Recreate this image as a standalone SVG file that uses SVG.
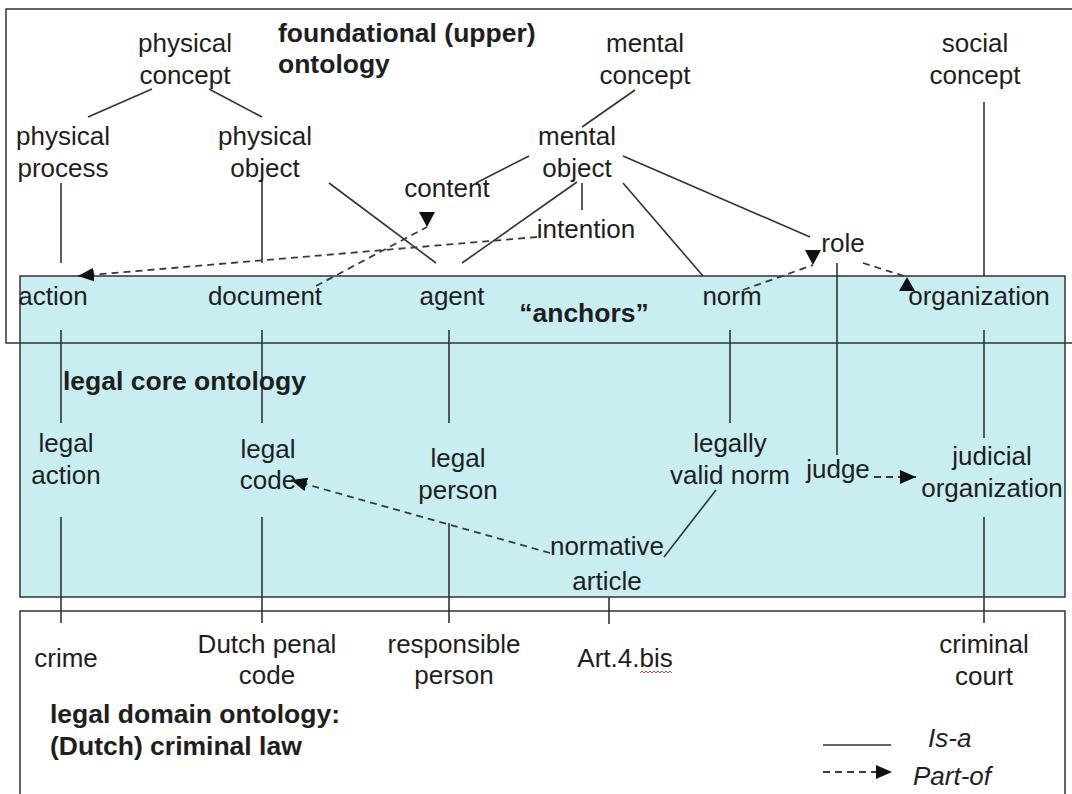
<svg xmlns="http://www.w3.org/2000/svg" width="1072" height="794" viewBox="0 0 1072 794">
<style>
  text { font-family: "Liberation Sans", Arial, sans-serif; font-size: 26px; fill: #1e1e1e; }
  .c { text-anchor: middle; }
  .b { font-weight: bold; font-size: 26.5px; }
  .i { font-style: italic; }
  .box { fill: none; stroke: #333; stroke-width: 1.5; }
  .isa { stroke: #333; stroke-width: 1.6; fill: none; }
  .part { stroke: #3a3a3a; stroke-width: 1.8; fill: none; stroke-dasharray: 7 5; }
</style>
<defs>
  <marker id="arr" markerUnits="userSpaceOnUse" markerWidth="16" markerHeight="14" viewBox="0 0 16 14" refX="16" refY="7" orient="auto">
    <path d="M0,0 L16,7 L0,14 z" fill="#111"/>
  </marker>
  <marker id="arrDown" markerUnits="userSpaceOnUse" markerWidth="16" markerHeight="16" viewBox="0 0 16 16" refX="15" refY="8" orient="90">
    <path d="M0,0 L15,8 L0,16 z" fill="#111"/>
  </marker>
  <marker id="arrUp" markerUnits="userSpaceOnUse" markerWidth="16" markerHeight="16" viewBox="0 0 16 16" refX="14" refY="8" orient="270">
    <path d="M0,0 L14,8 L0,16 z" fill="#111"/>
  </marker>
</defs>
<rect x="0" y="0" width="1072" height="794" fill="#fff"/>

<!-- layers -->
<g id="layers">
  <rect x="20" y="276" width="1045" height="321" fill="#c8eef2" stroke="#333" stroke-width="1.5"/>
  <rect class="box" x="6" y="9" width="1090" height="334"/>
  <rect class="box" x="20" y="611" width="1045" height="220"/>
</g>

<!-- connectors -->
<g id="connectors">
  <!-- is-a -->
  <line class="isa" x1="152" y1="89" x2="88" y2="117"/>
  <line class="isa" x1="209" y1="89" x2="262" y2="117"/>
  <line class="isa" x1="61" y1="183" x2="61" y2="263"/>
  <line class="isa" x1="262" y1="180" x2="262" y2="263"/>
  <line class="isa" x1="329" y1="183" x2="436" y2="263"/>
  <line class="isa" x1="635" y1="90" x2="582" y2="127"/>
  <line class="isa" x1="529" y1="156" x2="476" y2="183"/>
  <line class="isa" x1="577" y1="182" x2="462" y2="263"/>
  <line class="isa" x1="582" y1="183" x2="582" y2="210"/>
  <line class="isa" x1="623" y1="183" x2="703" y2="276"/>
  <line class="isa" x1="623" y1="156" x2="810" y2="237"/>
  <line class="isa" x1="984" y1="102" x2="984" y2="276"/>
  <line class="isa" x1="837" y1="263" x2="837" y2="455"/>
  <line class="isa" x1="61" y1="330" x2="61" y2="423"/>
  <line class="isa" x1="61" y1="517" x2="61" y2="623"/>
  <line class="isa" x1="262" y1="330" x2="262" y2="423"/>
  <line class="isa" x1="262" y1="517" x2="262" y2="623"/>
  <line class="isa" x1="449" y1="330" x2="449" y2="423"/>
  <line class="isa" x1="449" y1="523" x2="449" y2="623"/>
  <line class="isa" x1="730" y1="330" x2="730" y2="423"/>
  <line class="isa" x1="984" y1="330" x2="984" y2="438"/>
  <line class="isa" x1="984" y1="517" x2="984" y2="623"/>
  <line class="isa" x1="716" y1="490" x2="664" y2="557"/>
  <line class="isa" x1="609" y1="597" x2="609" y2="624"/>
  <!-- part-of -->
  <line class="part" x1="537" y1="237" x2="78" y2="276" marker-end="url(#arr)"/>
  <line class="part" x1="316" y1="286" x2="427" y2="227" marker-end="url(#arrDown)"/>
  <line class="part" x1="743" y1="290" x2="813" y2="265" marker-end="url(#arrDown)"/>
  <line class="part" x1="863" y1="263" x2="907" y2="277" marker-end="url(#arrUp)"/>
  <line class="part" x1="550" y1="553" x2="291" y2="480" marker-end="url(#arr)"/>
  <line class="part" x1="874" y1="477" x2="916" y2="477" marker-end="url(#arr)"/>
</g>

<!-- layer titles -->
<text class="b" x="278" y="42">foundational (upper)</text>
<text class="b" x="278" y="73">ontology</text>
<text class="b c" x="584" y="322">“anchors”</text>
<text class="b" x="63" y="390">legal core ontology</text>
<text class="b" x="50" y="723">legal domain ontology:</text>
<text class="b" x="50" y="755">(Dutch) criminal law</text>

<!-- upper ontology nodes -->
<g id="physical-concept"><text class="c" x="185" y="52">physical</text><text class="c" x="185" y="84">concept</text></g>
<g id="mental-concept"><text class="c" x="645" y="52">mental</text><text class="c" x="645" y="84">concept</text></g>
<g id="social-concept"><text class="c" x="975" y="52">social</text><text class="c" x="975" y="84">concept</text></g>
<g id="physical-process"><text class="c" x="63" y="145">physical</text><text class="c" x="63" y="177">process</text></g>
<g id="physical-object"><text class="c" x="265" y="145">physical</text><text class="c" x="265" y="177">object</text></g>
<g id="mental-object"><text class="c" x="577" y="145">mental</text><text class="c" x="577" y="177">object</text></g>
<g id="content"><text class="c" x="447" y="197">content</text></g>
<g id="intention"><text class="c" x="586" y="238">intention</text></g>
<g id="role"><text class="c" x="843" y="252">role</text></g>

<!-- anchors -->
<g id="action"><text class="c" x="53" y="305">action</text></g>
<g id="document"><text class="c" x="265" y="305">document</text></g>
<g id="agent"><text class="c" x="452" y="305">agent</text></g>
<g id="norm"><text class="c" x="732" y="305">norm</text></g>
<g id="organization"><text class="c" x="979" y="305">organization</text></g>

<!-- legal core -->
<g id="legal-action"><text class="c" x="66" y="452">legal</text><text class="c" x="66" y="484">action</text></g>
<g id="legal-code"><text class="c" x="268" y="458">legal</text><text class="c" x="268" y="489">code</text></g>
<g id="legal-person"><text class="c" x="458" y="467">legal</text><text class="c" x="458" y="499">person</text></g>
<g id="legally-valid-norm"><text class="c" x="730" y="452">legally</text><text class="c" x="730" y="484">valid norm</text></g>
<g id="judge"><text class="c" x="838" y="478">judge</text></g>
<g id="judicial-organization"><text class="c" x="992" y="465">judicial</text><text class="c" x="992" y="497">organization</text></g>
<g id="normative-article"><text class="c" x="607" y="555">normative</text><text class="c" x="607" y="590">article</text></g>

<!-- domain -->
<g id="crime"><text class="c" x="66" y="667">crime</text></g>
<g id="dutch-penal-code"><text class="c" x="267" y="653">Dutch penal</text><text class="c" x="267" y="684">code</text></g>
<g id="responsible-person"><text class="c" x="454" y="653">responsible</text><text class="c" x="454" y="684">person</text></g>
<g id="art4bis"><text class="c" x="625" y="667">Art.4.bis</text>
  <polyline points="640,673 642,671 644,673 646,671 648,673 650,671 652,673 654,671 656,673 658,671 660,673 662,671 664,673 666,671 668,673 670,671 672,673" fill="none" stroke="#d33" stroke-width="1"/></g>
<g id="criminal-court"><text class="c" x="984" y="653">criminal</text><text class="c" x="984" y="685">court</text></g>

<!-- legend -->
<g id="legend">
  <line class="isa" x1="823" y1="745" x2="891" y2="745"/>
  <text class="i" x="928" y="747">Is-a</text>
  <line class="part" x1="823" y1="772" x2="892" y2="772" stroke-dasharray="4 3" marker-end="url(#arr)"/>
  <text class="i" x="913" y="785">Part-of</text>
</g>
</svg>
